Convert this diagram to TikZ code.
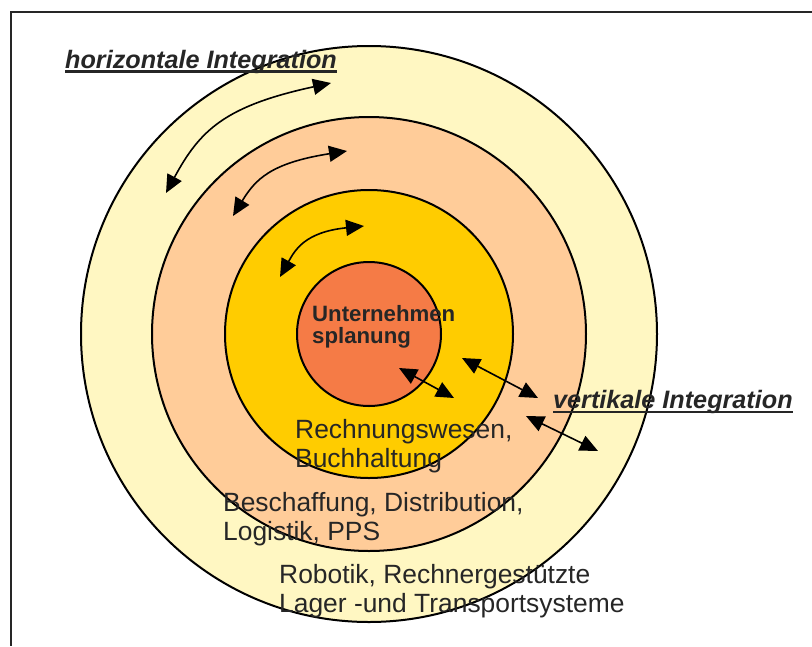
\documentclass[tikz,border=0pt]{standalone}
\usepackage{fontspec}
\setmainfont{Liberation Sans}
\usetikzlibrary{arrows.meta}
\definecolor{ringouter}{HTML}{FFF7C2}
\definecolor{ringpeach}{HTML}{FFCC99}
\definecolor{ringgold}{HTML}{FFCC00}
\definecolor{ringcore}{HTML}{F57B46}
\definecolor{ink}{HTML}{262626}
\begin{document}
\begin{tikzpicture}[x=1pt,y=-1pt,
  ring/.style={circle, draw=black, line width=2pt, inner sep=0pt},
  dbl/.style={{Triangle[length=18pt,width=16pt]}-{Triangle[length=18pt,width=16pt]}, line width=1.6pt, draw=black},
  frameline/.style={draw=ink, line width=1.6pt},
  lbl/.style={text=ink, inner sep=0pt, anchor=base west, align=left},
  big/.style={lbl, font=\fontsize{26.4}{29}\selectfont},
  core/.style={lbl, font=\fontsize{22.2}{22}\selectfont\bfseries},
  head/.style={lbl, font=\fontsize{25.2}{28}\selectfont\bfseries\itshape},
  uline/.style={draw=ink, line width=2.6pt}]
\useasboundingbox (0,0) rectangle (812,646);
\begin{scope}
\clip (0,0) rectangle (812,646);
% frame cut by the page edges
\draw[frameline] (812,12) -| (11,646);

% concentric rings
\node[ring, fill=ringouter, minimum size=576pt] (outer) at (369,334) {};
\node[ring, fill=ringpeach, minimum size=434pt] (peach) at (369,334) {};
\node[ring, fill=ringgold, minimum size=288pt] (gold) at (369,334) {};
\node[ring, fill=ringcore, minimum size=144pt] (core) at (369,334) {};
\end{scope}

% horizontal integration arrows
\coordinate (h1a) at (166,193);
\coordinate (h1b) at (331,83);
\coordinate (h2a) at (233,216);
\coordinate (h2b) at (347,151);
\coordinate (h3a) at (280,277);
\coordinate (h3b) at (364,226);
\draw[dbl] (h1a) .. controls (200,130) and (225,106) .. (h1b);
\draw[dbl] (h2a) .. controls (255,180) and (270,163) .. (h2b);
\draw[dbl] (h3a) .. controls (295,250) and (305,232) .. (h3b);

% vertical integration arrows
\coordinate (v1a) at (399,368);
\coordinate (v1b) at (454,398);
\coordinate (v2a) at (462,358);
\coordinate (v2b) at (538,398);
\coordinate (v3a) at (526,416);
\coordinate (v3b) at (598,451);
\draw[dbl] (v1a) -- (v1b);
\draw[dbl] (v2a) -- (v2b);
\draw[dbl] (v3a) -- (v3b);

% labels (multi-line nodes sit on the baseline of their last line)
\node[head] (hlab) at (65,68) {horizontale Integration};
\draw[uline] ([yshift=-3.5pt]hlab.base west) -- ([yshift=-3.5pt]hlab.base east);
\node[head] (vlab) at (553,408) {vertikale Integration};
\draw[uline] ([yshift=-4pt]vlab.base west) -- ([yshift=-4pt]vlab.base east);

\node[core] (planung) at (312,343) {Unternehmen\\splanung};
\node[big] (rw) at (295,467) {Rechnungswesen,\\Buchhaltung};
\node[big] (bd) at (223,540) {Beschaffung, Distribution,\\Logistik, PPS};
\node[big] (rt) at (279,612) {Robotik, Rechnergestützte\\Lager -und Transportsysteme};
\end{tikzpicture}
\end{document}
